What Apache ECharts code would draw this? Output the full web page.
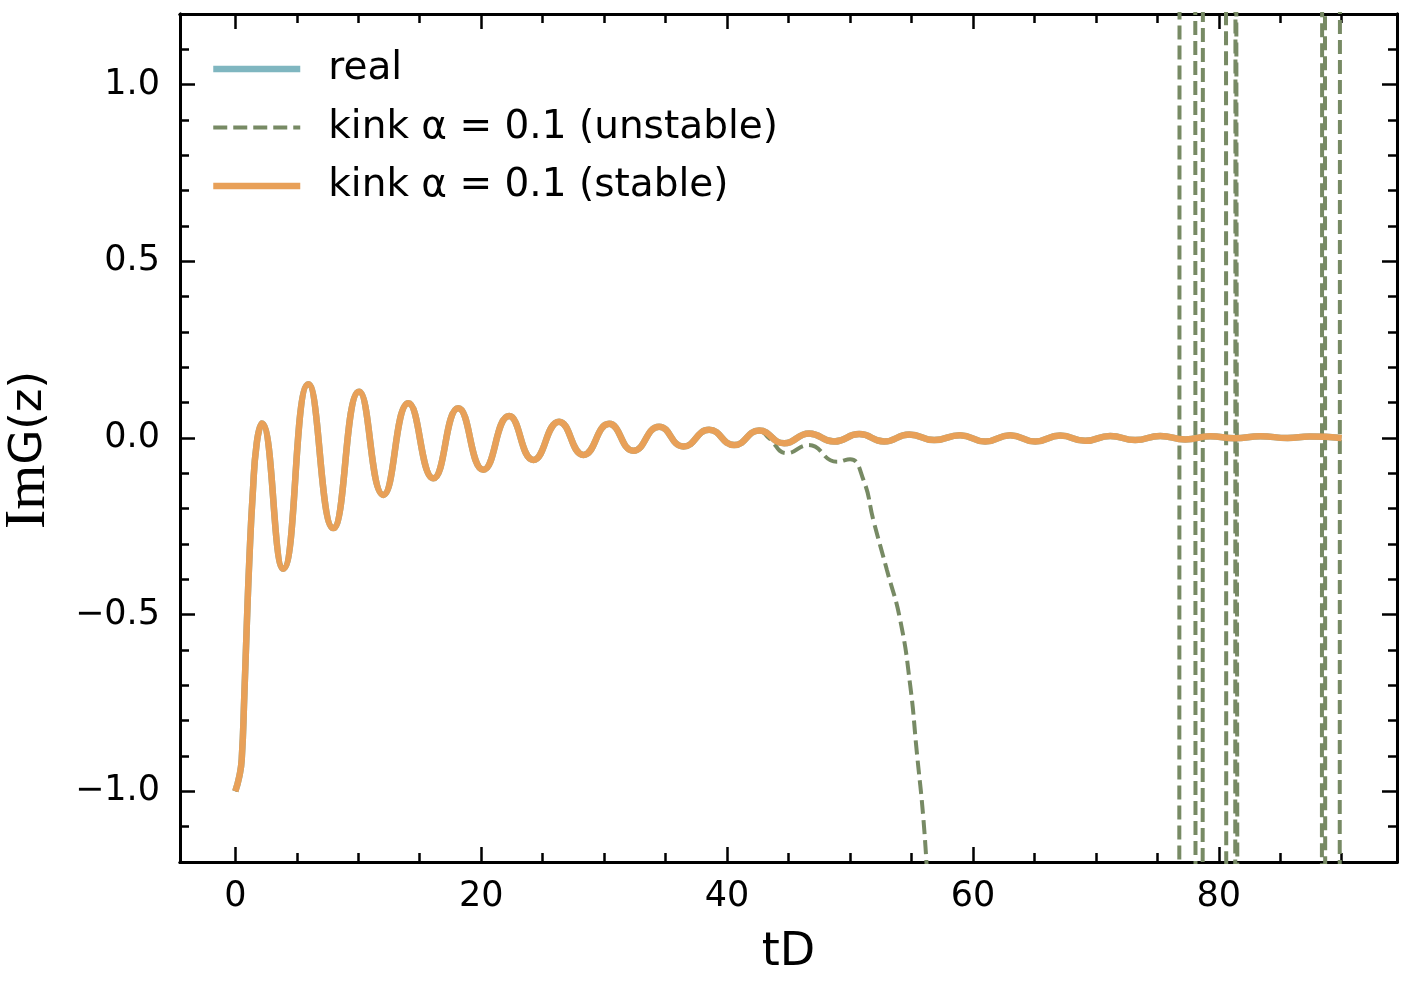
<!DOCTYPE html>
<html>
<head>
<meta charset="utf-8">
<script src="https://cdn.jsdelivr.net/npm/echarts@6/dist/echarts.min.js"></script>
<style>
  html, body { margin: 0; padding: 0; background: #fff; }
  #chart { width: 1410px; height: 990px; }
</style>
</head>
<body>
<div id="chart"></div>
<script>
// stable kink curve (and the exact "real" curve underneath it)
const tStable = [0, 0.33, 0.52, 0.74, 0.93, 1.14, 1.42, 1.74, 2.15, 3.9, 5.94, 7.97, 10.07, 12.04,
  14.08, 16.11, 18.14, 20.18, 22.27, 24.25, 26.34, 28.32, 30.41, 32.38, 34.47, 36.45, 38.54,
  40.58, 42.61, 44.65, 46.68, 48.71, 50.75, 52.78, 54.82, 56.85, 58.96, 61.0, 63.03, 65.07,
  67.1, 69.14, 71.17, 73.2, 75.24, 77.27, 79.3, 81.3, 83.4, 85.6, 87.4, 90];
const imStable = [-1.0, -0.957, -0.91, -0.721, -0.533, -0.345, -0.156, -0.015, 0.041, -0.37, 0.152,
  -0.255, 0.131, -0.161, 0.098, -0.114, 0.084, -0.09, 0.062, -0.062, 0.046, -0.048, 0.04, -0.036,
  0.032, -0.024, 0.023, -0.02, 0.021, -0.015, 0.013, -0.01, 0.011, -0.01, 0.01, -0.006, 0.008,
  -0.01, 0.008, -0.01, 0.007, -0.008, 0.006, -0.006, 0.006, -0.004, 0.005, -0.001, 0.005, 0.0,
  0.004, 0.0];

// unstable kink: leaves the stable curve near tD = 43
const tKinkSplit = [43.4, 44.87, 46.62, 48.93, 50.01, 51.1, 51.9, 53.0, 54.08, 54.9, 55.44, 55.98, 56.3];
const imKinkSplit = [0.0, -0.043, -0.02, -0.067, -0.06, -0.119, -0.232, -0.373, -0.514, -0.7, -0.89, -1.08, -1.25];

// then it blows up, flipping sign far outside the plotted range
const tKinkBlowup = [56.3, 57, 76.78, 76.82, 78.08, 78.12, 78.68, 78.72, 80.58, 80.62, 81.33, 81.37,
  81.53, 81.57, 88.38, 88.42, 88.63, 88.67, 89.83, 89.87, 90];
const imKinkBlowup = [-1.25, -3, -3, 3, 3, -3, -3, 3, 3, -3, -3, 3, 3, -3, -3, 3, 3, -3, -3, 3, 3];

const xMajor = [0, 20, 40, 60, 80];
const xMinor = [5, 10, 15, 25, 30, 35, 45, 50, 55, 65, 70, 75, 85, 90];
const yMajor = [-1.0, -0.5, 0.0, 0.5, 1.0];
const yMinor = [-1.1, -0.9, -0.8, -0.7, -0.6, -0.4, -0.3, -0.2, -0.1, 0.1, 0.2, 0.3, 0.4, 0.6, 0.7, 0.8, 0.9, 1.1];

const zip = (xs, ys) => xs.map((x, i) => [x, ys[i]]);

const stablePts = zip(tStable, imStable);
const kinkPts = stablePts.filter(p => p[0] < 43).concat(zip(tKinkSplit, imKinkSplit));
const blowupPts = zip(tKinkBlowup, imKinkBlowup);

const ORANGE = '#E8A058';
const GREEN = '#778A64';
const TEAL = '#7FB6C0';
const FONT = 'DejaVu Sans';
const W_SOLID = 6.5;
const W_DASH = 4;
const DASH = [14, 6];

const NAME_REAL = 'real';
const NAME_UNST = 'kink α = 0.1 (unstable)';
const NAME_ST = 'kink α = 0.1 (stable)';

function minus(s) { return s.replace('-', '\u2212'); }

function xAxisDef(pos, ticks, len, withLabels) {
  return {
    type: 'value', min: -4.5, max: 94.5, position: pos,
    axisLine: { show: true, onZero: false, lineStyle: { color: '#000', width: 3 } },
    axisTick: { show: true, inside: true, length: len, customValues: ticks,
      lineStyle: { color: '#000', width: 2.5 } },
    axisLabel: { show: withLabels, customValues: ticks, margin: 17,
      fontFamily: FONT, fontSize: 35, color: '#000',
      formatter: v => minus(String(Math.round(v))) },
    splitLine: { show: false }
  };
}

function yAxisDef(pos, ticks, len, withLabels) {
  return {
    type: 'value', min: -1.2, max: 1.2, position: pos,
    axisLine: { show: true, onZero: false, lineStyle: { color: '#000', width: 3 } },
    axisTick: { show: true, inside: true, length: len, customValues: ticks,
      lineStyle: { color: '#000', width: 2.5 } },
    axisLabel: { show: withLabels, customValues: ticks, margin: 20,
      fontFamily: FONT, fontSize: 35, color: '#000',
      formatter: v => minus(v.toFixed(1)) },
    splitLine: { show: false }
  };
}

const xAxes = [
  xAxisDef('bottom', xMajor, 15, true),
  xAxisDef('bottom', xMinor, 9, false),
  xAxisDef('top', xMajor, 15, false),
  xAxisDef('top', xMinor, 9, false)
];
Object.assign(xAxes[0], {
  name: 'tD', nameLocation: 'middle', nameGap: 68,
  nameTextStyle: { fontFamily: FONT, fontSize: 46, color: '#000' }
});

const yAxes = [
  yAxisDef('left', yMajor, 15, true),
  yAxisDef('left', yMinor, 9, false),
  yAxisDef('right', yMajor, 15, false),
  yAxisDef('right', yMinor, 9, false)
];
Object.assign(yAxes[0], {
  name: '{im|Im}G(z)', nameLocation: 'middle', nameGap: 122, nameRotate: 90,
  nameTextStyle: { fontFamily: FONT, fontSize: 45, color: '#000', padding: [0, 24, 0, 0],
    rich: { im: { fontFamily: 'Liberation Serif', fontSize: 58, color: '#000' } } }
});

const chart = echarts.init(document.getElementById('chart'));

chart.setOption({
  animation: false,
  backgroundColor: '#fff',
  grid: { left: 180, right: 13, top: 14, bottom: 128, outerBoundsMode: 'none' },
  legend: {
    orient: 'vertical', left: 210, top: 49, padding: 0,
    itemWidth: 87, itemHeight: 20, itemGap: 18.5,
    itemStyle: { opacity: 0 },
    data: [
      { name: NAME_REAL, lineStyle: { width: W_SOLID } },
      { name: NAME_UNST, lineStyle: { width: W_DASH, type: DASH } },
      { name: NAME_ST, lineStyle: { width: W_SOLID } }
    ],
    textStyle: { fontFamily: FONT, fontSize: 39, color: '#000', lineHeight: 40, padding: [0, 0, 0, 23] }
  },
  xAxis: xAxes,
  yAxis: yAxes,
  series: [
    {
      name: NAME_REAL, type: 'line', data: stablePts, smooth: 0.5,
      showSymbol: false, symbol: 'none', color: TEAL,
      lineStyle: { color: TEAL, width: W_SOLID }
    },
    {
      name: NAME_UNST, type: 'line', data: kinkPts, smooth: 0.5,
      showSymbol: false, symbol: 'none', color: GREEN,
      lineStyle: { color: GREEN, width: W_DASH, type: DASH }
    },
    {
      name: NAME_UNST, type: 'line', data: blowupPts, smooth: false,
      showSymbol: false, symbol: 'none', color: GREEN,
      lineStyle: { color: GREEN, width: W_DASH, type: DASH }
    },
    {
      name: NAME_ST, type: 'line', data: stablePts, smooth: 0.5,
      showSymbol: false, symbol: 'none', color: ORANGE,
      lineStyle: { color: ORANGE, width: W_SOLID }
    }
  ]
});
</script>
</body>
</html>
